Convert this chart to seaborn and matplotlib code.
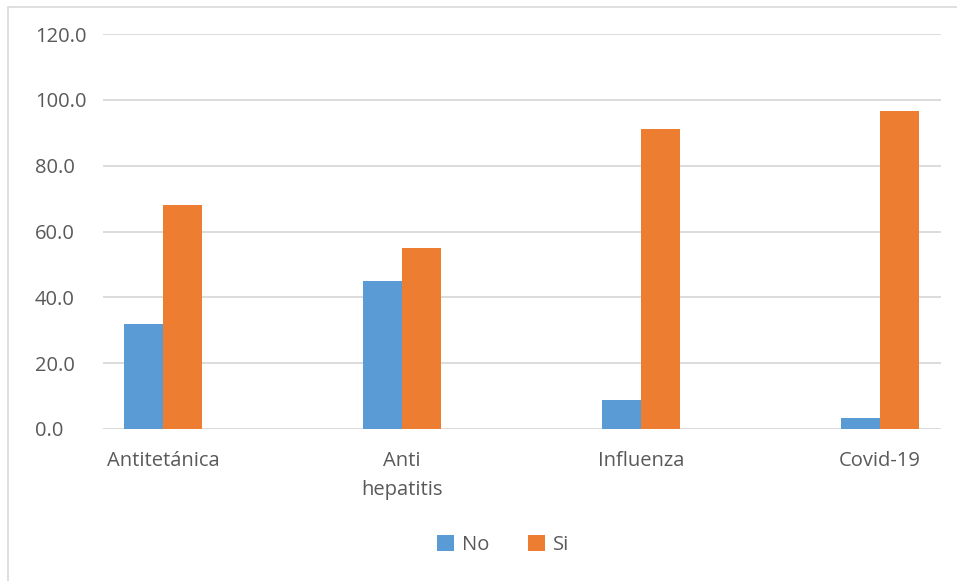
import matplotlib
matplotlib.use("Agg")
import matplotlib.pyplot as plt
import seaborn as sns
import pandas as pd
from matplotlib.patches import Rectangle

categories = ["Antitetánica", "Anti\nhepatitis", "Influenza", "Covid-19"]
series_names = ["No", "Si"]
no_values = [31.8, 45.0, 8.8, 3.3]
si_values = [68.2, 55.0, 91.2, 96.7]
y_ticks = [0, 20, 40, 60, 80, 100, 120]

df = pd.DataFrame({
    "vacuna": categories * 2,
    "respuesta": [series_names[0]] * 4 + [series_names[1]] * 4,
    "valor": no_values + si_values,
})

sns.set_theme(style="white")
plt.rcParams["font.family"] = ["Open Sans", "DejaVu Sans"]

FS = 14.5
W, H = 957, 581
fig = plt.figure(figsize=(W / 100, H / 100), dpi=100)
ax = fig.add_axes([103 / W, 1 - 429 / H, (941 - 103) / W, (429 - 34) / H])

palette = {"No": "#5B9BD5", "Si": "#ED7D31"}
sns.barplot(data=df, x="vacuna", y="valor", hue="respuesta", order=categories,
            hue_order=series_names, palette=palette, width=0.33, gap=0,
            saturation=1, ax=ax, legend=True, linewidth=0)

ax.set_ylim(0, 120)
ax.set_xlim((103 - 163) / 239, (941 - 163) / 239)
ax.set_yticks(y_ticks)
ax.set_yticklabels([f"{v:.1f}" for v in y_ticks])
ax.yaxis.grid(True, color="#D9D9D9", linewidth=1.3)
ax.set_axisbelow(True)
for s in ax.spines.values():
    s.set_visible(False)
ax.set_xlabel("")
ax.set_ylabel("")
ax.tick_params(axis="both", length=0, labelsize=FS, labelcolor="#595959")
ax.tick_params(axis="x", pad=16)
for lbl in ax.get_yticklabels():
    lbl.set_horizontalalignment("left")
ax.yaxis.set_tick_params(pad=(103 - 35) * 0.72)
for lbl in ax.get_xticklabels():
    lbl.set_linespacing(1.6)

leg = ax.legend(loc="center", bbox_to_anchor=(503 / W, 1 - 545 / H),
                bbox_transform=fig.transFigure, ncol=2, frameon=False,
                fontsize=FS, handlelength=0.85, handleheight=0.85,
                columnspacing=1.9, handletextpad=0.4, labelcolor="#595959")

# chart frame
fig.patches.append(Rectangle((8 / W, -0.1), 1.2, 1 - 7 / H + 0.1,
                             transform=fig.transFigure, fill=False,
                             edgecolor="#D9D9D9", linewidth=1.2))

fig.savefig("out.png", dpi=100, facecolor="white")
